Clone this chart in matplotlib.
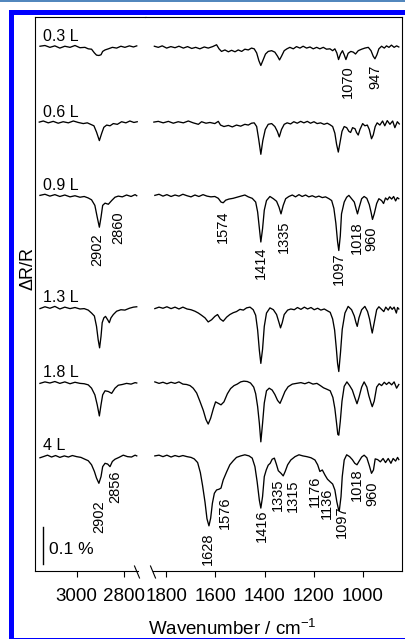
import matplotlib
matplotlib.use('Agg')
import matplotlib.pyplot as plt
from matplotlib.patches import Rectangle
from matplotlib.lines import Line2D

plt.rcParams['font.family'] = ['Liberation Sans', 'DejaVu Sans']
plt.rcParams['mathtext.fontset'] = 'custom'
plt.rcParams['mathtext.rm'] = 'Liberation Sans'
plt.rcParams['mathtext.it'] = 'Liberation Sans:italic'

# ---------------- data (ΔR/R in %, relative to each trace baseline) ----------------
doses = ['0.3 L', '0.6 L', '0.9 L', '1.3 L', '1.8 L', '4 L']
offsets = [-0.081, -0.284, -0.482, -0.786, -0.988, -1.186]

# 0.3 L
wnL_03 = [3155, 3134, 3113, 3092, 3071, 3050, 3028, 3007, 2986, 2965, 2951, 2937, 2925, 2916, 2906, 2897, 2890, 2880, 2866, 2849, 2831, 2813, 2796, 2777, 2760, 2746]
dL_03 = [0.002, 0.004, -0.001, 0.003, -0.003, 0.002, -0.001, 0.004, -0.002, -0.001, -0.005, -0.006, -0.016, -0.022, -0.023, -0.021, -0.012, -0.008, -0.005, -0.001, -0.003, 0.002, -0.001, 0.003, 0.0, 0.003]
wnR_03 = [1848, 1832, 1816, 1798, 1781, 1764, 1748, 1730, 1713, 1696, 1680, 1663, 1645, 1629, 1611, 1595, 1585, 1575, 1561, 1547, 1534, 1520, 1507, 1493, 1480, 1466, 1453, 1442, 1432, 1423, 1415, 1407, 1396, 1385, 1371, 1358, 1347, 1339, 1331, 1320, 1309, 1297, 1283, 1270, 1256, 1243, 1229, 1215, 1202, 1188, 1175, 1161, 1148, 1134, 1123, 1114, 1106, 1099, 1091, 1083, 1076, 1069, 1060, 1049, 1039, 1030, 1019, 1005, 992, 978, 967, 958, 951, 943, 935, 924, 913, 904, 894, 884, 873, 863, 854]
dR_03 = [0.002, -0.001, 0.003, -0.003, 0.001, -0.002, 0.002, -0.003, 0.001, -0.004, -0.001, -0.005, 0.0, -0.003, 0.001, 0.006, -0.005, -0.012, -0.008, -0.013, -0.009, -0.013, -0.008, -0.012, -0.006, -0.008, -0.003, -0.005, -0.016, -0.037, -0.050, -0.037, -0.019, -0.012, -0.010, -0.014, -0.025, -0.035, -0.025, -0.010, -0.005, -0.001, -0.005, 0.001, -0.003, 0.002, -0.003, 0.0, -0.005, -0.001, -0.005, -0.001, -0.006, -0.005, -0.010, -0.005, -0.016, -0.034, -0.019, -0.010, -0.021, -0.034, -0.017, -0.012, -0.014, -0.019, -0.010, -0.006, -0.003, -0.001, -0.010, -0.025, -0.032, -0.021, -0.005, 0.002, -0.003, 0.003, -0.001, 0.005, -0.001, 0.003, 0.0]

# 0.6 L
wnL_06 = [3158, 3141, 3120, 3099, 3078, 3057, 3035, 3014, 2993, 2972, 2955, 2941, 2927, 2916, 2904, 2894, 2885, 2873, 2859, 2845, 2828, 2810, 2792, 2775, 2758, 2744]
dL_06 = [0.0, 0.003, -0.002, 0.002, -0.003, 0.001, -0.002, 0.003, -0.001, -0.004, -0.002, -0.006, -0.010, -0.027, -0.050, -0.030, -0.014, -0.008, -0.010, -0.004, -0.006, 0.001, -0.002, 0.003, -0.001, 0.001]
wnR_06 = [1850, 1832, 1812, 1791, 1771, 1751, 1730, 1710, 1690, 1669, 1656, 1638, 1622, 1602, 1588, 1579, 1565, 1547, 1531, 1514, 1497, 1480, 1466, 1453, 1442, 1432, 1424, 1415, 1407, 1397, 1385, 1371, 1358, 1348, 1340, 1331, 1320, 1308, 1294, 1281, 1267, 1253, 1240, 1226, 1213, 1199, 1186, 1172, 1158, 1145, 1134, 1123, 1114, 1107, 1100, 1093, 1085, 1076, 1066, 1057, 1050, 1042, 1032, 1026, 1019, 1012, 1001, 992, 982, 974, 965, 958, 950, 942, 931, 920, 911, 901, 890, 879, 870, 860, 852]
dR_06 = [0.0, 0.002, -0.002, 0.002, -0.003, 0.001, -0.002, 0.003, -0.002, -0.006, 0.001, -0.003, -0.001, -0.004, 0.002, -0.008, -0.012, -0.009, -0.013, -0.008, -0.011, -0.006, -0.008, -0.003, -0.002, -0.012, -0.045, -0.087, -0.050, -0.020, -0.006, -0.004, -0.012, -0.025, -0.040, -0.020, -0.006, -0.002, -0.005, 0.001, -0.003, 0.002, -0.002, 0.002, -0.003, 0.001, -0.004, -0.002, -0.006, -0.003, -0.007, -0.012, -0.030, -0.060, -0.081, -0.055, -0.025, -0.012, -0.015, -0.025, -0.028, -0.015, -0.018, -0.028, -0.035, -0.020, -0.004, -0.010, -0.008, -0.020, -0.045, -0.035, -0.012, -0.002, -0.008, 0.003, -0.010, 0.004, -0.006, 0.003, -0.015, 0.001, -0.005]

# 0.9 L
wnL_09 = [3155, 3134, 3113, 3092, 3071, 3050, 3028, 3007, 2986, 2968, 2951, 2937, 2923, 2913, 2904, 2897, 2890, 2880, 2866, 2852, 2838, 2824, 2807, 2789, 2770, 2753, 2746]
dL_09 = [0.0, 0.003, -0.002, 0.002, -0.003, 0.001, -0.004, -0.001, -0.005, -0.003, -0.007, -0.012, -0.027, -0.059, -0.086, -0.059, -0.027, -0.021, -0.024, -0.014, -0.005, -0.002, -0.004, 0.001, -0.003, 0.002, -0.001]
wnR_09 = [1846, 1829, 1813, 1797, 1780, 1764, 1748, 1732, 1715, 1699, 1683, 1667, 1650, 1634, 1618, 1602, 1588, 1577, 1568, 1558, 1545, 1528, 1512, 1496, 1480, 1466, 1450, 1436, 1428, 1420, 1415, 1408, 1401, 1392, 1378, 1364, 1351, 1341, 1333, 1324, 1314, 1301, 1287, 1274, 1260, 1247, 1233, 1220, 1206, 1192, 1179, 1165, 1152, 1138, 1127, 1118, 1110, 1103, 1098, 1092, 1087, 1076, 1066, 1057, 1046, 1035, 1027, 1022, 1015, 1005, 995, 984, 974, 967, 961, 954, 944, 935, 924, 916, 908, 900, 892, 883, 875, 867, 860, 854]
dR_09 = [0.0, 0.003, -0.002, 0.002, -0.003, 0.001, -0.002, 0.003, -0.001, -0.004, 0.001, -0.003, 0.002, -0.002, -0.004, -0.003, -0.008, -0.018, -0.020, -0.013, -0.010, -0.008, -0.005, -0.002, 0.001, -0.004, -0.008, -0.018, -0.045, -0.095, -0.126, -0.090, -0.040, -0.014, -0.003, -0.009, -0.016, -0.032, -0.050, -0.027, -0.009, -0.003, 0.001, -0.004, 0.002, -0.003, 0.001, -0.004, -0.001, -0.005, -0.002, -0.006, -0.004, -0.009, -0.014, -0.035, -0.075, -0.125, -0.149, -0.110, -0.050, -0.018, -0.005, 0.0, -0.009, -0.018, -0.038, -0.050, -0.032, -0.009, -0.003, -0.008, -0.025, -0.045, -0.065, -0.050, -0.022, -0.009, -0.014, -0.022, -0.007, -0.012, -0.004, -0.010, -0.003, -0.015, -0.006, -0.009]

# 1.3 L
wnL_13 = [3155, 3134, 3113, 3092, 3071, 3050, 3028, 3007, 2986, 2968, 2951, 2937, 2925, 2916, 2909, 2903, 2897, 2892, 2885, 2878, 2869, 2862, 2855, 2845, 2831, 2813, 2796, 2777, 2760, 2746]
dL_13 = [-0.002, 0.003, -0.001, 0.004, -0.003, 0.002, -0.002, 0.001, -0.003, -0.002, -0.006, -0.014, -0.022, -0.050, -0.086, -0.108, -0.077, -0.040, -0.027, -0.023, -0.032, -0.040, -0.027, -0.018, -0.009, -0.005, -0.006, -0.001, 0.002, 0.003]
wnR_13 = [1846, 1829, 1813, 1797, 1780, 1764, 1748, 1732, 1715, 1699, 1683, 1669, 1656, 1642, 1629, 1615, 1602, 1591, 1580, 1568, 1554, 1541, 1527, 1514, 1500, 1486, 1473, 1459, 1446, 1436, 1428, 1421, 1415, 1408, 1401, 1392, 1378, 1364, 1351, 1341, 1335, 1328, 1320, 1306, 1293, 1279, 1266, 1252, 1238, 1225, 1211, 1198, 1184, 1171, 1157, 1144, 1133, 1123, 1115, 1108, 1103, 1098, 1091, 1084, 1073, 1060, 1046, 1035, 1028, 1023, 1016, 1005, 992, 981, 973, 966, 962, 954, 944, 935, 924, 915, 907, 897, 889, 881, 873, 864, 859, 854]
dR_13 = [-0.002, 0.002, -0.001, 0.003, -0.002, 0.002, -0.003, 0.002, -0.003, -0.005, -0.009, -0.014, -0.020, -0.027, -0.038, -0.032, -0.023, -0.018, -0.030, -0.036, -0.025, -0.018, -0.013, -0.010, -0.004, -0.006, 0.0, 0.002, -0.005, -0.020, -0.060, -0.115, -0.150, -0.112, -0.050, -0.014, 0.0, -0.005, -0.018, -0.040, -0.054, -0.040, -0.018, -0.006, -0.003, -0.005, 0.001, -0.004, 0.002, -0.003, 0.001, -0.005, -0.001, -0.006, -0.003, -0.008, -0.012, -0.030, -0.060, -0.110, -0.150, -0.172, -0.120, -0.058, -0.014, 0.004, -0.005, -0.022, -0.040, -0.050, -0.027, -0.005, 0.004, -0.010, -0.030, -0.055, -0.068, -0.040, -0.005, 0.003, -0.004, -0.010, 0.002, -0.006, 0.003, -0.004, 0.002, -0.014, 0.001, -0.003]

# 1.8 L
wnL_18 = [3155, 3134, 3113, 3092, 3071, 3050, 3028, 3007, 2986, 2968, 2951, 2937, 2923, 2913, 2904, 2897, 2890, 2880, 2866, 2852, 2838, 2824, 2807, 2789, 2770, 2753, 2746]
dL_18 = [-0.002, 0.002, -0.001, 0.003, -0.002, 0.002, -0.003, 0.001, -0.002, -0.003, -0.006, -0.015, -0.033, -0.060, -0.090, -0.060, -0.033, -0.022, -0.024, -0.029, -0.015, -0.007, -0.005, -0.002, -0.004, 0.0, -0.001]
wnR_18 = [1846, 1829, 1813, 1797, 1780, 1764, 1748, 1732, 1717, 1703, 1690, 1676, 1663, 1649, 1638, 1629, 1619, 1608, 1599, 1588, 1577, 1565, 1551, 1538, 1524, 1511, 1497, 1484, 1470, 1457, 1444, 1436, 1428, 1421, 1415, 1408, 1401, 1392, 1381, 1369, 1358, 1347, 1337, 1328, 1317, 1304, 1287, 1270, 1252, 1236, 1220, 1203, 1187, 1173, 1160, 1146, 1133, 1122, 1114, 1107, 1102, 1098, 1092, 1085, 1076, 1065, 1054, 1043, 1033, 1024, 1016, 1005, 995, 984, 976, 967, 962, 954, 944, 934, 924, 913, 904, 894, 883, 873, 863, 854]
dR_18 = [0.002, -0.002, 0.001, -0.003, 0.001, -0.002, 0.002, -0.004, -0.005, -0.008, -0.015, -0.028, -0.050, -0.075, -0.100, -0.112, -0.096, -0.070, -0.052, -0.056, -0.060, -0.052, -0.030, -0.016, -0.008, -0.004, 0.002, 0.004, 0.003, -0.001, -0.012, -0.030, -0.065, -0.110, -0.160, -0.110, -0.055, -0.022, -0.015, -0.020, -0.032, -0.048, -0.056, -0.042, -0.024, -0.011, -0.004, -0.002, 0.0, -0.003, 0.001, -0.004, -0.002, -0.008, -0.014, -0.018, -0.022, -0.040, -0.070, -0.110, -0.140, -0.142, -0.105, -0.050, -0.010, 0.002, -0.008, -0.020, -0.040, -0.057, -0.040, -0.012, 0.002, -0.012, -0.035, -0.055, -0.065, -0.050, -0.012, -0.003, -0.008, 0.001, -0.005, 0.001, -0.006, 0.002, -0.015, -0.005]

# 4 L
wnL_4 = [3155, 3141, 3123, 3106, 3089, 3071, 3052, 3035, 3018, 3000, 2982, 2965, 2951, 2937, 2925, 2916, 2906, 2897, 2890, 2880, 2869, 2859, 2849, 2838, 2821, 2803, 2785, 2768, 2753, 2746]
dL_4 = [-0.005, -0.002, 0.002, -0.003, 0.001, -0.004, 0.0, -0.003, 0.001, -0.002, -0.004, -0.009, -0.013, -0.024, -0.042, -0.060, -0.074, -0.056, -0.029, -0.020, -0.022, -0.029, -0.015, -0.009, -0.004, 0.002, -0.002, -0.003, 0.002, 0.0]
wnR_4 = [1846, 1829, 1813, 1797, 1780, 1764, 1748, 1732, 1715, 1699, 1686, 1672, 1661, 1652, 1642, 1634, 1626, 1619, 1612, 1604, 1595, 1585, 1577, 1568, 1554, 1541, 1527, 1514, 1497, 1480, 1463, 1450, 1439, 1430, 1421, 1415, 1408, 1401, 1393, 1385, 1377, 1369, 1360, 1352, 1344, 1333, 1324, 1316, 1306, 1293, 1276, 1260, 1244, 1228, 1211, 1195, 1184, 1175, 1165, 1154, 1144, 1133, 1123, 1114, 1106, 1100, 1096, 1089, 1084, 1076, 1066, 1054, 1043, 1033, 1024, 1016, 1005, 995, 984, 974, 965, 957, 950, 940, 929, 918, 908, 897, 886, 877, 867, 859, 854]
dR_4 = [0.0, 0.002, -0.002, 0.002, -0.003, 0.001, -0.002, 0.001, -0.002, -0.004, -0.008, -0.018, -0.045, -0.080, -0.125, -0.170, -0.189, -0.168, -0.128, -0.101, -0.092, -0.090, -0.087, -0.065, -0.043, -0.024, -0.013, -0.004, 0.0, 0.003, 0.0, -0.006, -0.029, -0.070, -0.120, -0.141, -0.110, -0.056, -0.038, -0.025, -0.020, -0.009, -0.006, -0.022, -0.040, -0.047, -0.054, -0.042, -0.024, -0.011, -0.002, 0.003, 0.0, -0.002, -0.005, -0.011, -0.024, -0.042, -0.038, -0.052, -0.063, -0.070, -0.076, -0.092, -0.124, -0.142, -0.148, -0.110, -0.056, -0.011, 0.003, -0.002, -0.010, -0.020, -0.024, -0.015, -0.003, 0.002, -0.005, -0.026, -0.047, -0.038, -0.008, -0.010, -0.016, -0.007, -0.018, -0.007, -0.020, -0.007, -0.014, -0.004, -0.010]

left_wn = [wnL_03, wnL_06, wnL_09, wnL_13, wnL_18, wnL_4]
left_d = [dL_03, dL_06, dL_09, dL_13, dL_18, dL_4]
right_wn = [wnR_03, wnR_06, wnR_09, wnR_13, wnR_18, wnR_4]
right_d = [dR_03, dR_06, dR_09, dR_13, dR_18, dR_4]

# peak labels: (text, x wavenumber, y top in data units, panel)
peak_labels = [
    ('1070', 1060, -0.130, 'R'), ('947', 948, -0.130, 'R'),
    ('2902', 2911, -0.584, 'L'), ('2860', 2824, -0.526, 'L'),
    ('1574', 1570, -0.522, 'R'), ('1414', 1415, -0.619, 'R'), ('1335', 1320, -0.549, 'R'),
    ('1097', 1096, -0.637, 'R'), ('1018', 1026, -0.553, 'R'), ('960', 967, -0.565, 'R'),
    ('2902', 2906, -1.305, 'L'), ('2856', 2838, -1.226, 'L'),
    ('1628', 1629, -1.394, 'R'), ('1576', 1561, -1.296, 'R'), ('1416', 1412, -1.332, 'R'),
    ('1335', 1347, -1.246, 'R'), ('1315', 1283, -1.251, 'R'), ('1176', 1195, -1.238, 'R'),
    ('1136', 1145, -1.273, 'R'), ('1097', 1087, -1.319, 'R'), ('1018', 1026, -1.219, 'R'),
    ('960', 962, -1.256, 'R'),
]

left_ticks = [3000, 2800]
right_ticks = [1800, 1600, 1400, 1200, 1000]

# ---------------- layout ----------------
W, H, DPI = 405, 639, 100
fig = plt.figure(figsize=(W / DPI, H / DPI), dpi=DPI)
fig.patch.set_facecolor('white')

def fx(px):
    return px / W

def fy(py):
    return 1 - py / H

ax_top, ax_bot = 17, 571
x_left, x_break, x_right = 35, 145.5, 402
axL = fig.add_axes([fx(x_left), fy(ax_bot), (x_break - x_left) / W, (ax_bot - ax_top) / H])
axR = fig.add_axes([fx(x_break), fy(ax_bot), (x_right - x_break) / W, (ax_bot - ax_top) / H])

lw_sp = 0.8
for ax in (axL, axR):
    ax.set_ylim(-1.497, 0)
    ax.set_yticks([])
    for s in ax.spines.values():
        s.set_linewidth(lw_sp)
    ax.tick_params(axis='x', direction='out', length=4, width=lw_sp, labelsize=13.5, pad=8)

axL.set_xlim(3176, 2709)
axR.set_xlim(1884, 841)
axL.spines['right'].set_visible(False)
axR.spines['left'].set_visible(False)
axL.spines['bottom'].set_bounds(3176, 2741)
axR.spines['bottom'].set_bounds(1853, 841)
axL.set_xticks(left_ticks)
axR.set_xticks(right_ticks)
axL.set_xticklabels([str(t) for t in left_ticks])
axR.set_xticklabels([str(t) for t in right_ticks])

lw = 0.95
for i in range(len(doses)):
    off = offsets[i]
    axL.plot(left_wn[i], [v + off for v in left_d[i]], color='black', lw=lw)
    axR.plot(right_wn[i], [v + off for v in right_d[i]], color='black', lw=lw)
    axL.text(3143, off + 0.027, doses[i], fontsize=11.5, ha='left', va='center')

for txt, xw, yt, panel in peak_labels:
    ax = axL if panel == 'L' else axR
    ax.text(xw, yt, txt, rotation=90, fontsize=10.5, ha='center', va='top')

# scale bar
axL.plot([3141, 3141], [-1.378, -1.478], color='black', lw=1.0)
axL.text(3116, -1.439, '0.1 %', fontsize=12.5, ha='left', va='center')

# break marks
for x0 in (134.5, 150.5):
    fig.add_artist(Line2D([fx(x0), fx(x0 + 5)], [fy(566), fy(578)], color='black', lw=0.8,
                          transform=fig.transFigure))

# axis labels
fig.text(fx(232.5), fy(629), 'Wavenumber / cm$^{-1}$', fontsize=13.5, ha='center', va='center')
fig.text(fx(28), fy(268), 'ΔR/R', fontsize=13, rotation=90, ha='center', va='center')

# blue frame
fig.add_artist(Rectangle((fx(10.8), fy(639.8)), (406.5 - 10.8) / W, (639.8 - 12.2) / H,
                         fill=False, edgecolor='#0000ff', lw=3.6, transform=fig.transFigure,
                         clip_on=False))
fig.add_artist(Line2D([0, 1], [fy(0.7), fy(0.7)], color='#3070b0', lw=1.2,
                      transform=fig.transFigure))

fig.savefig('out.png', dpi=DPI)
